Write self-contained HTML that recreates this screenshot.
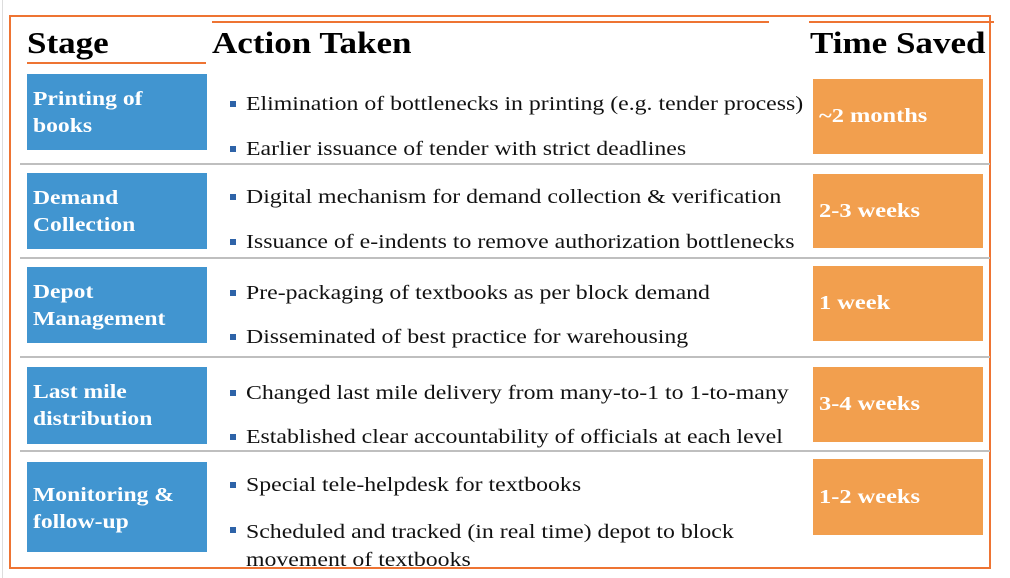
<!DOCTYPE html>
<html><head><meta charset="utf-8"><style>
body{margin:0;width:1010px;height:578px;background:#fff;position:relative;overflow:hidden;font-family:"Liberation Serif",serif;}
div{position:absolute;box-sizing:border-box;}
.hl{background:#ee7433;height:2px;}
.sep{background:#bfbfbf;height:2px;left:20px;width:970px;}
.stage{left:27px;width:180px;background:#4195d0;color:#fff;font-weight:bold;font-size:20px;line-height:27px;padding:12px 6px;}
.stage span{display:inline-block;transform:scaleX(1.18);transform-origin:left;white-space:nowrap}
.time{left:813px;width:170px;background:#f29f4e;color:#fff;font-weight:bold;font-size:20px;display:flex;align-items:center;padding-left:6px;}
.time span{display:inline-block;transform:scaleX(1.22);transform-origin:left;white-space:nowrap}
.b{left:230px;font-size:20px;line-height:24px;color:#111;white-space:nowrap;}
.b::before{content:"";position:absolute;left:0;top:9px;width:6px;height:6px;background:#2e63a8;}
.b span{margin-left:16px;display:inline-block;transform:scaleX(1.19);transform-origin:left}
.h{font-size:31px;font-weight:bold;color:#000;top:24px;line-height:38px;white-space:nowrap;transform:scaleX(1.13);transform-origin:left;}
</style></head><body>
<div style="left:9px;top:15px;width:982px;height:554px;border:2px solid #ee7433;"></div>
<div style="left:2px;top:0;width:1px;height:578px;background:#ddd;"></div>
<div class="hl" style="left:212px;top:21px;width:557px;"></div>
<div class="hl" style="left:809px;top:21px;width:185px;"></div>
<div class="hl" style="left:27px;top:62px;width:179px;"></div>
<div class="h" style="left:27px;">Stage</div>
<div class="h" style="left:212px;">Action Taken</div>
<div class="h" style="left:810px;">Time Saved</div>

<div class="sep" style="top:163px;"></div>
<div class="sep" style="top:257px;"></div>
<div class="sep" style="top:356px;"></div>
<div class="sep" style="top:450px;"></div>

<div class="stage" style="top:74px;height:76px;"><span>Printing of<br>books</span></div>
<div class="stage" style="top:173px;height:76px;"><span>Demand<br>Collection</span></div>
<div class="stage" style="top:267px;height:76px;"><span>Depot<br>Management</span></div>
<div class="stage" style="top:367px;height:77px;"><span>Last mile<br>distribution</span></div>
<div class="stage" style="top:462px;height:90px;padding-top:20px;"><span>Monitoring &amp;<br>follow-up</span></div>

<div class="time" style="top:79px;height:75px;"><span>~2 months</span></div>
<div class="time" style="top:174px;height:74px;"><span>2-3 weeks</span></div>
<div class="time" style="top:266px;height:75px;"><span>1 week</span></div>
<div class="time" style="top:367px;height:75px;"><span>3-4 weeks</span></div>
<div class="time" style="top:459px;height:76px;"><span>1-2 weeks</span></div>

<div class="b" style="top:92px;"><span>Elimination of bottlenecks in printing (e.g. tender process)</span></div>
<div class="b" style="top:137px;"><span>Earlier issuance of tender with strict deadlines</span></div>
<div class="b" style="top:185px;"><span>Digital mechanism for demand collection &amp; verification</span></div>
<div class="b" style="top:230px;"><span>Issuance of e-indents to remove authorization bottlenecks</span></div>
<div class="b" style="top:281px;"><span>Pre-packaging of textbooks as per block demand</span></div>
<div class="b" style="top:325px;"><span>Disseminated of best practice for warehousing</span></div>
<div class="b" style="top:381px;"><span>Changed last mile delivery from many-to-1 to 1-to-many</span></div>
<div class="b" style="top:425px;"><span>Established clear accountability of officials at each level</span></div>
<div class="b" style="top:473px;"><span>Special tele-helpdesk for textbooks</span></div>
<div class="b" style="top:518px;line-height:28px;"><span>Scheduled and tracked (in real time) depot to block<br>movement of textbooks</span></div>
</body></html>
